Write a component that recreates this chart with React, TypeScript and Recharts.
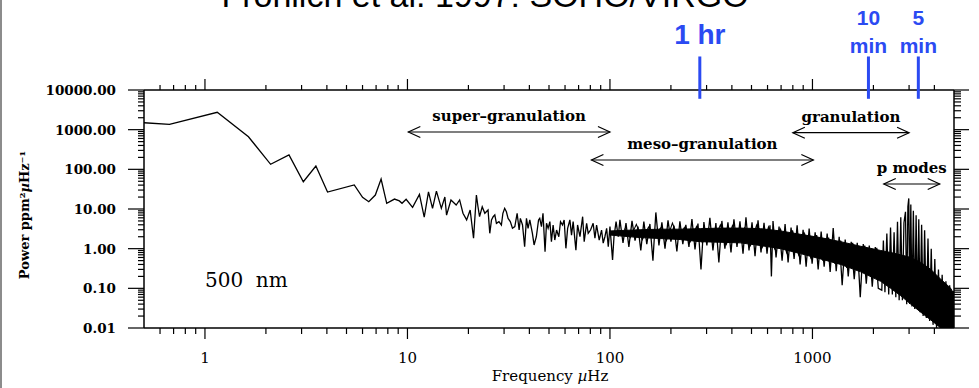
import React from 'react';
import { ComposedChart, Line, Area, XAxis, YAxis, ReferenceLine } from 'recharts';

// spectrum: frequency in µHz, power in ppm²/µHz
const lowFreq = [0.5, 0.668, 1.15, 1.64, 2.11, 2.6, 3.06, 3.53, 4.03, 5.46, 6.0, 6.44, 6.94, 7.41, 7.9, 8.63, 9.12, 9.4, 9.85, 10.6, 11.46, 12.1, 12.7, 13.3, 13.9, 14.7, 15.3, 15.6, 16.4, 17.4, 18.1, 18.8, 19.6, 20.4, 21.2, 21.9];
const lowPower = [1496, 1365, 2737, 664, 134, 230, 48.7, 121, 26.8, 40.3, 19.7, 15.3, 22.5, 57, 13.9, 17.8, 16, 13.9, 17.6, 11, 23.3, 6.2, 27, 10.4, 28.3, 10.4, 20, 7.0, 16.9, 12.6, 16.9, 7.8, 5.3, 9.4, 1.83, 22.5];

const midFreq = [22.3, 22.7, 23.4, 24.1, 25.0, 25.5, 26.0, 26.5, 27.0, 27.5, 28.3, 29.1, 29.6, 30.2, 30.8, 31.4, 32.2, 33.0, 33.9, 34.8, 35.6, 36.1, 37.0, 37.9, 38.7, 39.4, 40.2, 41.4, 42.2, 43.3, 44.4, 45.0, 45.9, 46.7, 47.8, 48.6, 49.5, 50.5, 51.4, 52.4, 53.4, 54.5, 55.9, 57.0, 58.3, 59.4, 60.6, 61.8, 63.4, 64.6, 65.8, 67.9, 69.2, 71.1, 73.3, 74.6, 76.7, 78.1, 80.2, 82.6, 84.3, 85.9, 88.5, 90.9, 92.6, 94.4, 96.3, 98.1, 100, 103, 104.7, 107.2, 109.9, 112];
const midPower = [11.4, 6.4, 11.4, 7.8, 9.4, 2.44, 5.3, 6.4, 7.1, 4.36, 4.8, 3.95, 7.8, 10.4, 8.5, 5.8, 4.8, 3.26, 3.6, 7.8, 2.95, 5.8, 3.95, 1.12, 5.8, 3.26, 5.3, 2.44, 1.24, 2.0, 5.3, 5.8, 3.6, 7.8, 0.84, 4.36, 3.26, 4.8, 1.5, 3.95, 1.65, 2.95, 2.0, 4.8, 3.95, 5.3, 1.02, 3.26, 5.3, 2.2, 4.8, 0.92, 3.95, 2.0, 6.4, 1.5, 4.36, 2.44, 2.95, 4.36, 1.83, 3.95, 1.65, 2.95, 1.38, 2.0, 3.26, 1.12, 3.6, 0.52, 2.0, 4.8, 2.0, 5.3];

const highFreq = [116, 120, 124, 128.5, 133, 137.5, 142, 147, 152, 157.5, 163, 168.5, 174.5, 180.5, 187, 193.5, 200, 207, 214, 221.5, 229, 237, 245.5, 254, 263, 272, 281.5, 291, 301, 311.5, 322.5, 333.5, 345, 357, 369.5, 382.5, 396, 409.5, 424, 438.5, 454, 469.5, 486, 503, 520.5, 538.5, 557, 576.5, 596.5, 617, 627, 638.5, 661, 684, 708, 732.5, 758, 784, 811.5, 840, 869, 899, 930.5, 963, 996, 1031, 1067, 1104, 1142, 1182, 1223, 1266, 1310, 1355, 1402, 1451, 1502, 1554, 1608, 1664, 1722, 1782, 1844, 1908, 1974, 2043, 2114];
const highPower = [1.4, 4.4, 1.1, 5.0, 1.6, 3.6, 0.9, 4.8, 1.3, 4.2, 0.5, 8.2, 1.2, 4.6, 1.0, 5.2, 1.5, 3.8, 0.85, 4.9, 1.3, 4.0, 1.1, 5.6, 0.95, 4.3, 0.3, 4.7, 1.2, 6.0, 0.9, 4.4, 0.45, 5.0, 1.0, 4.6, 0.8, 5.5, 1.1, 4.9, 0.75, 6.2, 0.9, 4.6, 0.65, 5.2, 0.8, 4.5, 0.75, 3.9, 0.2, 5.0, 0.6, 3.6, 0.5, 4.2, 0.45, 3.4, 0.55, 3.9, 0.4, 3.0, 0.35, 3.2, 0.42, 2.6, 0.3, 2.7, 0.35, 2.4, 0.26, 3.3, 0.27, 2.0, 0.12, 1.7, 0.2, 1.5, 0.17, 1.4, 0.06, 1.3, 0.13, 1.2, 0.11, 1.1, 0.1];

// second pass of the same noisy stretch, sampled between the points above
const fillFreq = [118, 126, 135, 144.5, 155, 166, 177.5, 190, 203.5, 217.5, 233, 249.5, 267.5, 286, 306, 328, 351, 376, 402.5, 431, 461.5, 494.5, 529.5, 567, 606.5, 650, 696, 745, 797.5, 854, 914.5, 979.5, 1049, 1123, 1202, 1288, 1378, 1476, 1580, 1692, 1812, 1940, 2078, 2180];
const fillPower = [3.2, 1.9, 4.1, 1.7, 3.5, 2.0, 3.3, 1.6, 4.4, 1.8, 3.4, 1.5, 3.6, 1.4, 3.2, 1.7, 4.0, 1.3, 3.8, 1.5, 3.3, 1.2, 3.9, 1.1, 3.5, 1.0, 3.1, 0.8, 2.9, 0.7, 2.4, 0.6, 2.2, 0.5, 1.9, 0.42, 1.6, 0.33, 1.4, 0.28, 1.2, 0.22, 1.05, 0.18];

const pmodeFreq = [2200, 2240, 2280, 2330, 2380, 2430, 2480, 2530, 2580, 2630, 2680, 2730, 2780, 2830, 2880, 2920, 2960, 2990, 3020, 3060, 3100, 3150, 3200, 3250, 3300, 3350, 3400, 3460, 3520, 3580, 3650, 3720, 3790, 3860, 3940, 4020, 4100, 4190, 4280, 4370, 4460, 4560, 4660, 4760, 4860, 4960, 5000];
const pmodePower = [0.09, 1.6, 0.08, 2.4, 0.07, 3.4, 0.07, 2.6, 0.06, 4.8, 0.05, 6.2, 0.05, 4.5, 8.5, 0.04, 11.5, 18.5, 0.04, 13.0, 0.035, 9.0, 0.03, 7.0, 0.03, 5.5, 0.025, 4.0, 0.02, 2.9, 0.018, 1.8, 0.015, 1.0, 0.012, 0.55, 0.01, 0.3, 0.01, 0.22, 0.01, 0.15, 0.01, 0.12, 0.01, 0.085, 0.07];

// dense core of the spectrum (lower / upper edge of the solid black band)
const bandFreq = [100, 141, 177, 222, 279, 351, 440, 553, 695, 873, 1097, 1378, 1730, 2173, 2434, 2729, 3057, 3428, 3839, 4302, 4820, 5000];
const bandLow = [2.2, 1.9, 1.8, 1.7, 1.5, 1.45, 1.4, 1.2, 1.0, 0.75, 0.55, 0.4, 0.26, 0.15, 0.1, 0.065, 0.04, 0.025, 0.016, 0.01, 0.01, 0.01];
const bandHigh = [2.8, 3.0, 3.1, 3.1, 3.2, 3.3, 3.3, 3.2, 2.8, 2.3, 1.9, 1.5, 1.15, 0.9, 0.8, 0.7, 0.6, 0.45, 0.3, 0.17, 0.1, 0.07];

// annotations
const arrowLabels = ['super–granulation', 'meso–granulation', 'granulation', 'p modes'];
const arrowFrom = [10.1, 81, 800, 2250];
const arrowTo = [100, 1010, 3000, 4250];
const arrowLevel = [873, 172, 838, 42.7];

const periodFreq = [277.8, 1890, 3333];
const periodText = [['1 hr'], ['10', 'min'], ['5', 'min']];

const X_MIN = 0.5;
const X_MAX = 5000;
const Y_MIN = 0.01;
const Y_MAX = 10000;
const xTicks = [0.6, 0.7, 0.8, 0.9, 1, 2, 3, 4, 5, 6, 7, 8, 9, 10, 20, 30, 40, 50, 60, 70, 80, 90, 100, 200, 300, 400, 500, 600, 700, 800, 900, 1000, 2000, 3000, 4000];
const yTicks = [0.01, 0.02, 0.03, 0.04, 0.05, 0.06, 0.07, 0.08, 0.09, 0.1, 0.2, 0.3, 0.4, 0.5, 0.6, 0.7, 0.8, 0.9, 1, 2, 3, 4, 5, 6, 7, 8, 9, 10, 20, 30, 40, 50, 60, 70, 80, 90, 100, 200, 300, 400, 500, 600, 700, 800, 900, 1000, 2000, 3000, 4000, 5000, 6000, 7000, 8000, 9000, 10000];
const xMajor = [1, 10, 100, 1000];
const yMajor = [0.01, 0.1, 1, 10, 100, 1000, 10000];

const toPoints = (fs: number[], ps: number[]) => fs.map((f, i) => ({ f, p: ps[i] }));
const spectrum = [
  ...toPoints(lowFreq, lowPower),
  ...toPoints(midFreq, midPower),
  ...toPoints(highFreq, highPower),
  ...toPoints(pmodeFreq, pmodePower),
];
const spectrumFill = toPoints(fillFreq, fillPower);
const band = bandFreq.map((f, i) => ({ f, range: [bandLow[i], bandHigh[i]] }));

const SERIF = 'DejaVu Serif';
const SANS = 'Liberation Sans, Arial, sans-serif';
const BLUE = '#2b4af2';

const isDecade = (v: number) => Math.abs(Math.log10(v) - Math.round(Math.log10(v))) < 1e-9;

// tick marks: one reference segment per tick value spans the plot, marks drawn at both ends
const xTickShape = (v: number) => (props: any) => {
  const { x1, y1, y2 } = props;
  const bottom = Math.max(y1, y2);
  const top = Math.min(y1, y2);
  const major = isDecade(v);
  return (
    <g>
      <line x1={x1} x2={x1} y1={bottom} y2={bottom + (major ? 11 : 6)} stroke="#000" strokeWidth={1.2} />
      <line x1={x1} x2={x1} y1={top} y2={top - (major ? 11 : 5)} stroke="#000" strokeWidth={1.2} />
    </g>
  );
};

const yTickShape = (v: number) => (props: any) => {
  const { x1, x2, y1 } = props;
  const left = Math.min(x1, x2);
  const right = Math.max(x1, x2);
  const major = isDecade(v);
  return (
    <g>
      <line x1={left} x2={left - (major ? 16 : 6)} y1={y1} y2={y1} stroke="#000" strokeWidth={1.2} />
      <line x1={right} x2={right + (major ? 15 : 7)} y1={y1} y2={y1} stroke="#000" strokeWidth={1.2} />
    </g>
  );
};

// plot frame plus the free texts of the figure (cropped title, axis titles, left border)
const frameShape = (props: any) => {
  const { x1, y1, x2, y2 } = props;
  const l = Math.min(x1, x2);
  const r = Math.max(x1, x2);
  const t = Math.min(y1, y2);
  const b = Math.max(y1, y2);
  return (
    <g>
      <line x1={l} y1={t} x2={r} y2={t} stroke="#000" strokeWidth={1.5} />
      <line x1={r} y1={t} x2={r} y2={b} stroke="#000" strokeWidth={1.5} />
      <line x1={l} y1={b} x2={r} y2={b} stroke="#000" strokeWidth={1.5} />
      <line x1={l} y1={t} x2={l} y2={b} stroke="#000" strokeWidth={1.5} />
      <rect x={0} y={0} width={2} height={388} fill="#8c8c8c" />
      <text x={485} y={7} textAnchor="middle" fontFamily={SANS} fontSize={34} fill="#000">
        Fröhlich et al. 1997: SOHO/VIRGO
      </text>
      <text x={(l + r) / 2 + 1} y={b + 53} textAnchor="middle" fontFamily={SERIF} fontSize={15} fill="#000">
        Frequency <tspan fontStyle="italic">µ</tspan>Hz
      </text>
      <text x={29} y={(t + b) / 2 + 6} transform={`rotate(-90, 29, ${(t + b) / 2 + 6})`} textAnchor="middle" fontFamily={SERIF} fontWeight="bold" fontSize={13} fill="#000">
        Power ppm²<tspan fontStyle="italic">µ</tspan>Hz⁻¹
      </text>
    </g>
  );
};

const tagShape = (props: any) => (
  <text x={props.x1} y={props.y1} fontFamily={SERIF} fontSize={20} fill="#000">
    500{'\u00a0'} nm
  </text>
);

const BottomLabel = (props: any) => {
  const { x, y, payload } = props;
  return (
    <text x={x} y={Number(y) + 33} textAnchor="middle" fontFamily={SERIF} fontSize={15} fill="#000">
      {payload.value}
    </text>
  );
};

const LeftLabel = (props: any) => {
  const { x, y, payload } = props;
  return (
    <text x={Number(x) - 26} y={Number(y) + 5} textAnchor="end" fontFamily={SERIF} fontWeight="bold" fontSize={13.5} fill="#000">
      {payload.value.toFixed(2)}
    </text>
  );
};

const arrowShape = (text: string) => (props: any) => {
  const { x1, y1, x2, y2 } = props;
  const h = 12;
  const w = 5.5;
  return (
    <g>
      <line x1={x1} y1={y1} x2={x2} y2={y2} stroke="#000" strokeWidth={1.2} />
      <polyline points={`${x1 + h},${y1 - w} ${x1},${y1} ${x1 + h},${y1 + w}`} fill="none" stroke="#000" strokeWidth={1.2} />
      <polyline points={`${x2 - h},${y2 - w} ${x2},${y2} ${x2 - h},${y2 + w}`} fill="none" stroke="#000" strokeWidth={1.2} />
      <text x={(x1 + x2) / 2} y={y1 - 11} textAnchor="middle" fontFamily={SERIF} fontWeight="bold" fontSize={15} fill="#000">
        {text}
      </text>
    </g>
  );
};

const periodShape = (lines: string[]) => (props: any) => {
  const { x1, y1, x2, y2 } = props;
  const top = Math.min(y1, y2);
  const font = { fontFamily: SANS, fontWeight: 'bold' as const, fill: BLUE, textAnchor: 'middle' as const };
  return (
    <g>
      <line x1={x1} y1={y1} x2={x2} y2={y2} stroke={BLUE} strokeWidth={3} />
      {lines.length === 1 ? (
        <text x={x1} y={top - 12} fontSize={28} {...font}>{lines[0]}</text>
      ) : (
        <>
          <text x={x1} y={top - 31} fontSize={21} {...font}>{lines[0]}</text>
          <text x={x1} y={top - 3} fontSize={21} {...font}>{lines[1]}</text>
        </>
      )}
    </g>
  );
};

export default function App() {
  return (
    <div style={{ position: 'absolute', left: 0, top: 0 }}>
      <ComposedChart width={979} height={388} margin={{ top: 90, right: 25, bottom: 0, left: 0 }}>
        <XAxis
          xAxisId="b" dataKey="f" type="number" scale="log" domain={[X_MIN, X_MAX]} allowDataOverflow
          ticks={xMajor} interval={0} tickSize={0} tick={BottomLabel} tickLine={false}
          axisLine={false} height={60}
        />
        <YAxis
          yAxisId="l" type="number" scale="log" domain={[Y_MIN, Y_MAX]} allowDataOverflow
          ticks={yMajor} interval={0} tickSize={0} tick={LeftLabel} tickLine={false}
          axisLine={false} width={144}
        />
        <Area
          xAxisId="b" yAxisId="l" data={band} dataKey="range" type="linear"
          stroke="#000" strokeWidth={1} fill="#000" fillOpacity={1}
          dot={false} activeDot={false} isAnimationActive={false}
        />
        <Line
          xAxisId="b" yAxisId="l" data={spectrumFill} dataKey="p" type="linear"
          stroke="#000" strokeWidth={1.1} dot={false} activeDot={false} isAnimationActive={false}
        />
        <Line
          xAxisId="b" yAxisId="l" data={spectrum} dataKey="p" type="linear"
          stroke="#000" strokeWidth={1.3} dot={false} activeDot={false} isAnimationActive={false}
        />
        <ReferenceLine
          xAxisId="b" yAxisId="l" ifOverflow="visible"
          segment={[{ x: X_MIN, y: Y_MIN }, { x: X_MAX, y: Y_MAX }]}
          shape={frameShape}
        />
        {xTicks.map((v) => (
          <ReferenceLine
            key={`x${v}`} xAxisId="b" yAxisId="l" ifOverflow="visible"
            segment={[{ x: v, y: Y_MIN }, { x: v, y: Y_MAX }]}
            shape={xTickShape(v)}
          />
        ))}
        {yTicks.map((v) => (
          <ReferenceLine
            key={`y${v}`} xAxisId="b" yAxisId="l" ifOverflow="visible"
            segment={[{ x: X_MIN, y: v }, { x: X_MAX, y: v }]}
            shape={yTickShape(v)}
          />
        ))}
        {arrowLabels.map((label, i) => (
          <ReferenceLine
            key={label} xAxisId="b" yAxisId="l" ifOverflow="visible"
            segment={[{ x: arrowFrom[i], y: arrowLevel[i] }, { x: arrowTo[i], y: arrowLevel[i] }]}
            shape={arrowShape(label)}
          />
        ))}
        {periodFreq.map((f, i) => (
          <ReferenceLine
            key={`p${f}`} xAxisId="b" yAxisId="l" ifOverflow="visible"
            segment={[{ x: f, y: 70000 }, { x: f, y: 6000 }]}
            shape={periodShape(periodText[i])}
          />
        ))}
        <ReferenceLine
          xAxisId="b" yAxisId="l" ifOverflow="visible"
          segment={[{ x: 1, y: 0.108 }, { x: 1.01, y: 0.108 }]}
          shape={tagShape}
        />
      </ComposedChart>
    </div>
  );
}
